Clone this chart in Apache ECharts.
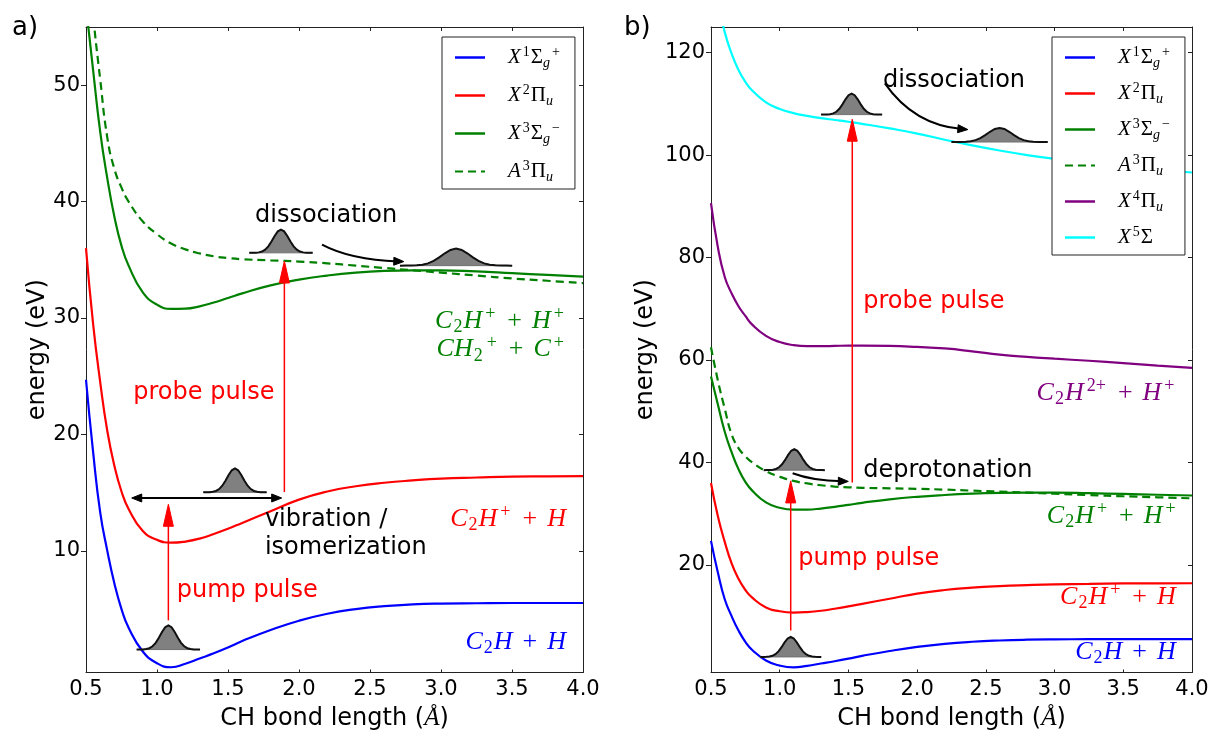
<!DOCTYPE html>
<html><head><meta charset="utf-8">
<script src="https://cdn.jsdelivr.net/npm/echarts@6/dist/echarts.min.js"></script>
<style>html,body{margin:0;padding:0;background:#fff}#c{width:1212px;height:736px}</style>
</head><body><div id="c"></div>
<script>
// ---------------- data ----------------
const bondLength = [0.5,0.55,0.6,0.65,0.7,0.75,0.8,0.9,1.0,1.1,1.2,1.3,1.4,1.5,1.6,1.8,2.0,2.2,2.4,2.6,2.8,3.0,3.25,3.5,3.75,4.0];
const eX1 = [24.7,18.5,13.3,10.0,7.2,5.0,3.4,1.35,0.35,0.0,0.3,0.75,1.2,1.7,2.25,3.2,4.0,4.6,5.0,5.25,5.4,5.47,5.5,5.52,5.52,5.52];
const eX2 = [36,29.5,24.5,20.3,17.3,15.1,13.6,11.7,10.95,10.7,10.8,11.05,11.45,11.9,12.4,13.4,14.4,15.1,15.55,15.85,16.05,16.2,16.3,16.38,16.4,16.42];
const eX3 = [56.8,51.3,46.0,42.0,38.7,36.2,34.5,32.2,31.15,30.78,30.8,31.0,31.33,31.72,32.12,32.8,33.3,33.65,33.9,34.05,34.1,34.1,34.0,33.85,33.7,33.55];
const eA3 = [62.5,56.0,50.5,45.5,42.8,41.2,40.0,38.3,37.2,36.4,35.9,35.55,35.3,35.15,35.05,34.95,34.85,34.7,34.5,34.3,34.1,33.9,33.65,33.4,33.2,33.0];
const eX4 = [90.6,82.0,76.2,73.0,70.5,68.6,66.9,64.7,63.5,62.9,62.7,62.7,62.75,62.8,62.8,62.75,62.55,62.25,61.7,61.05,60.6,60.25,59.85,59.4,58.9,58.45];
const eX5 = [137,130,124,119.8,116.6,114.3,112.6,110.3,109.0,108.2,107.65,107.2,106.85,106.5,106.1,105.2,104.2,103.0,101.9,100.9,100.0,99.25,98.4,97.7,97.1,96.6];

const xTicks = [0.5,1.0,1.5,2.0,2.5,3.0,3.5,4.0];
const yTicksA = [10,20,30,40,50];
const yTicksB = [20,40,60,80,100,120];

// wave packets: [centre x, base energy, height, width]
const packetsA = [[1.08,1.52,2.08,0.446],[1.549,15.03,2.05,0.446],[1.873,35.6,2.0,0.446],[3.106,34.5,1.46,0.79]];
const packetsB = [[1.08,2.04,3.9,0.444],[1.106,38.5,4.1,0.444],[1.523,107.9,4.1,0.444],[2.60,102.55,2.75,0.70]];
// arrows: [x1,y1,x2,y2]
const pulseArrowsA = [[1.08,4.03,1.08,14.0],[1.897,15.05,1.897,34.9]];
const pulseArrowsB = [[1.08,7.2,1.08,36.4],[1.528,36.1,1.528,107.0]];
const vibArrowsA = [[0.822,14.54,1.878,14.54]];
const curvedArrowsA = [[2.162,36.3,2.738,34.85]];
const curvedArrowsB = [[1.765,114.0,2.369,104.98],[1.094,37.9,1.499,36.3]];
// annotations: [x, y, text, color]
const notesA = [[1.69,38.78,'dissociation','#000000'],[0.833,23.62,'probe pulse','#ff0000'],[1.76,11.45,'vibration /\nisomerization','#000000'],[1.139,6.6,'pump pulse','#ff0000']];
const notesB = [[1.751,114.5,'dissociation','#000000'],[1.608,71.4,'probe pulse','#ff0000'],[1.608,38.35,'deprotonation','#000000'],[1.135,21.17,'pump pulse','#ff0000']];
const speciesA = [[3.88,29.73,'{i|C}{sub|2}{i|H}{sup|+}{n|+}{i|H}{sup|+}','#008000'],[3.88,27.3,'{i|CH}{sub|2}{sup|+}{n|+}{i|C}{sup|+}','#008000'],[3.88,12.74,'{i|C}{sub|2}{i|H}{sup|+}{n|+}{i|H}','#ff0000'],[3.88,2.18,'{i|C}{sub|2}{i|H}{n|+}{i|H}','#0000ff']];
const speciesB = [[3.887,53.6,'{i|C}{sub|2}{i|H}{sup|2+}{n|+}{i|H}{sup|+}','#800080'],[3.896,29.6,'{i|C}{sub|2}{i|H}{sup|+}{n|+}{i|H}{sup|+}','#008000'],[3.882,13.7,'{i|C}{sub|2}{i|H}{sup|+}{n|+}{i|H}','#ff0000'],[3.882,3.0,'{i|C}{sub|2}{i|H}{n|+}{i|H}','#0000ff']];

const legendLabels = {
  X1:'{i|X}{sup|1}{n|Σ}{subi|g}{sup|+}',
  X2:'{i|X}{sup|2}{n|Π}{subi|u}',
  X3:'{i|X}{sup|3}{n|Σ}{subi|g}{sup|−}',
  A3:'{i|A}{sup|3}{n|Π}{subi|u}',
  X4:'{i|X}{sup|4}{n|Π}{subi|u}',
  X5:'{i|X}{sup|5}{n|Σ}'
};
// packet bell profile (shape)
const packetProfile = [[-0.5,0],[-0.45,0.0015],[-0.4,0.006],[-0.35,0.02],[-0.3,0.056],[-0.25,0.135],[-0.2,0.278],[-0.15,0.487],[-0.1,0.726],[-0.05,0.923],[0,1],[0.05,0.923],[0.1,0.726],[0.15,0.487],[0.2,0.278],[0.25,0.135],[0.3,0.056],[0.35,0.02],[0.4,0.006],[0.45,0.0015],[0.5,0]];

// ---------------- chart ----------------
const FONT = 'DejaVu Sans';
const SERIF = 'Liberation Serif';
const chart = echarts.init(document.getElementById('c'));

function mathRich(color, s, opPad, supPad) {
  const ss = Math.round(s*0.68), lh = Math.round(s*1.2);
  const base = {fontFamily: SERIF, fill: color, color: color};
  return {
    i: Object.assign({}, base, {fontStyle:'italic', fontSize:s, lineHeight:lh}),
    n: Object.assign({}, base, {fontSize:s, lineHeight:lh, padding:[0,opPad,0,opPad]}),
    sup: Object.assign({}, base, {fontSize:ss, lineHeight:Math.round(s*0.8), verticalAlign:'top', padding:[0,supPad,0,supPad+1]}),
    sub: Object.assign({}, base, {fontSize:ss, lineHeight:ss, verticalAlign:'bottom', padding:[0,1,0,1]}),
    subi: Object.assign({}, base, {fontStyle:'italic', fontSize:ss, lineHeight:ss, verticalAlign:'bottom'}),
    sp: {width: 18, fontSize: s, lineHeight: lh}
  };
}

function mkX(grid, pos, main) {
  return {
    gridIndex: grid, type:'value', position: pos, min:0.5, max:4.0, interval:0.5,
    axisLine:{show:true, onZero:false, lineStyle:{color:'#222', width:1}},
    axisTick:{show:true, inside:true, length: main?3:4, lineStyle:{color:'#222'}, customValues:xTicks},
    axisLabel:{show:main, customValues:xTicks, formatter: v => Number(v).toFixed(1), fontSize:21, fontFamily:FONT, color:'#000', margin:7},
    splitLine:{show:false},
    name: main ? '{n|CH bond length (}{a|Å}{n|)}' : '',
    nameLocation:'middle', nameGap:32,
    nameTextStyle:{rich:{n:{fontSize:24, fontFamily:FONT, color:'#000', lineHeight:28}, a:{fontSize:25, fontFamily:SERIF, fontStyle:'italic', color:'#000', lineHeight:28}}}
  };
}
function mkY(grid, pos, main, min, max, ticks, gap) {
  return {
    gridIndex: grid, type:'value', position: pos, min:min, max:max,
    axisLine:{show:true, onZero:false, lineStyle:{color:'#222', width:1}},
    axisTick:{show:true, inside:!main, length: main?5:4, lineStyle:{color:'#222'}, customValues:ticks},
    axisLabel:{show:main, customValues:ticks, formatter: v => ticks.indexOf(v) >= 0 ? String(v) : '', fontSize:21, fontFamily:FONT, color:'#000', margin:6},
    splitLine:{show:false},
    name: main ? 'energy (eV)' : '', nameLocation:'middle', nameGap:gap,
    nameTextStyle:{fontSize:24, fontFamily:FONT, color:'#000'}
  };
}

function lineSeries(name, vals, color, xi, yi, dashed) {
  return {type:'line', name:name, xAxisIndex:xi, yAxisIndex:yi,
    data: bondLength.map((x,i) => [x, vals[i]]), symbol:'none', showSymbol:false, smooth:0.5, clip:true,
    lineStyle:{color:color, width:2.2, type: dashed ? [8,5] : 'solid'}, itemStyle:{color:color}, z:2, silent:true};
}

function packetSeries(packets, xi, yi) {
  return {type:'custom', xAxisIndex:xi, yAxisIndex:yi, data:packets, z:4, silent:true,
    renderItem: (params, api) => {
      const xc = api.value(0), b = api.value(1), h = api.value(2), w = api.value(3);
      const pts = packetProfile.map(p => api.coord([xc + p[0]*w, b + p[1]*h]));
      return {type:'group', children:[
        {type:'polygon', shape:{points:pts}, style:{fill:'#808080', stroke:'#707070', lineWidth:1}},
        {type:'polyline', shape:{points:pts}, style:{stroke:'#111', lineWidth:2, fill:null}}
      ]};
    }};
}
function headPoly(tip, ux, uy, hl, hw, color) {
  const px = -uy, py = ux;
  return {type:'polygon', shape:{points:[[tip[0],tip[1]],[tip[0]-ux*hl+px*hw/2, tip[1]-uy*hl+py*hw/2],[tip[0]-ux*hl-px*hw/2, tip[1]-uy*hl-py*hw/2]]}, style:{fill:color, stroke:color, lineWidth:1}};
}
function straightArrowSeries(arrows, xi, yi, color, lw, hl, hw, both) {
  return {type:'custom', xAxisIndex:xi, yAxisIndex:yi, data:arrows, z:5, silent:true,
    renderItem: (params, api) => {
      const a = api.coord([api.value(0), api.value(1)]);
      const b = api.coord([api.value(2), api.value(3)]);
      const dx = b[0]-a[0], dy = b[1]-a[1], L = Math.hypot(dx,dy), ux = dx/L, uy = dy/L;
      const s = both ? [a[0]+ux*hl*0.8, a[1]+uy*hl*0.8] : a;
      const e = [b[0]-ux*hl*0.8, b[1]-uy*hl*0.8];
      const ch = [{type:'line', shape:{x1:s[0], y1:s[1], x2:e[0], y2:e[1]}, style:{stroke:color, lineWidth:lw}},
                  headPoly(b, ux, uy, hl, hw, color)];
      if (both) ch.push(headPoly(a, -ux, -uy, hl, hw, color));
      return {type:'group', children:ch};
    }};
}
function curvedArrowSeries(arrows, xi, yi) {
  return {type:'custom', xAxisIndex:xi, yAxisIndex:yi, data:arrows, z:5, silent:true,
    renderItem: (params, api) => {
      const a = api.coord([api.value(0), api.value(1)]);
      const b = api.coord([api.value(2), api.value(3)]);
      const c = [a[0] + 0.35*(b[0]-a[0]), a[1] + 0.9*(b[1]-a[1])];
      const dx = b[0]-c[0], dy = b[1]-c[1], L = Math.hypot(dx,dy), ux = dx/L, uy = dy/L;
      const e = [b[0]-ux*6, b[1]-uy*6];
      return {type:'group', children:[
        {type:'bezierCurve', shape:{x1:a[0], y1:a[1], x2:e[0], y2:e[1], cpx1:c[0], cpy1:c[1]}, style:{stroke:'#000', lineWidth:2, fill:null}},
        headPoly(b, ux, uy, 10, 8, '#000')
      ]};
    }};
}
function notesSeries(items, xi, yi) {
  return {type:'custom', xAxisIndex:xi, yAxisIndex:yi, data:items.map(it => [it[0], it[1]]), z:6, silent:true,
    renderItem: (params, api) => {
      const it = items[params.dataIndex];
      const p = api.coord([it[0], it[1]]);
      return {type:'text', x:p[0], y:p[1], style:{text:it[2], fill:it[3], fontSize:24, fontFamily:FONT, align:'left', verticalAlign:'middle', lineHeight:28}};
    }};
}
function speciesSeries(items, xi, yi) {
  return {type:'custom', xAxisIndex:xi, yAxisIndex:yi, data:items.map(it => [it[0], it[1]]), z:6, silent:true,
    renderItem: (params, api) => {
      const it = items[params.dataIndex];
      const p = api.coord([it[0], it[1]]);
      return {type:'text', x:p[0], y:p[1], style:{text:it[2], rich:mathRich(it[3], 26, 10, 2), fill:it[3], fontSize:26, fontFamily:SERIF, align:'right', verticalAlign:'middle'}};
    }};
}

const DASH_ICON = 'path://M0,0h8v2h-8zM13,0h8v2h-8zM26,0h4v2h-4z';
function mkLegend(names, left, gap, pad) {
  return {data:names.map(n => ({name:n, icon: n === 'A3' ? DASH_ICON : 'rect'})),
    orient:'vertical', left:left, top:37, itemWidth:30, itemHeight:2.5, itemGap:gap,
    padding:pad, backgroundColor:'#ffffff', borderColor:'#222', borderWidth:1, borderRadius:0, selectedMode:false,
    formatter: n => '{sp| }' + legendLabels[n],
    textStyle:{rich: mathRich('#000000', 21, 0, 1)}};
}

const option = {
  animation:false,
  backgroundColor:'#ffffff',
  grid:[{left:86, top:27, width:497, height:647}, {left:711, top:27, width:481, height:647}],
  xAxis:[mkX(0,'bottom',true), mkX(0,'top',false), mkX(1,'bottom',true), mkX(1,'top',false)],
  yAxis:[mkY(0,'left',true,-0.45,55,yTicksA,34), mkY(0,'right',false,-0.45,55,yTicksA,0),
         mkY(1,'left',true,-1,125,yTicksB,53), mkY(1,'right',false,-1,125,yTicksB,0)],
  legend:[mkLegend(['X1','X2','X3','A3'], 442, 13, [8,14,5,13]),
          mkLegend(['X1','X2','X3','A3','X4','X5'], 1052, 11, [8,14,7,13])],
  graphic:[
    {type:'text', left:12, top:15, style:{text:'a)', fontSize:26, fontFamily:FONT, fill:'#000'}},
    {type:'text', left:624, top:15, style:{text:'b)', fontSize:26, fontFamily:FONT, fill:'#000'}}
  ],
  series:[
    lineSeries('X1', eX1, '#0000ff', 0, 0, false),
    lineSeries('X2', eX2, '#ff0000', 0, 0, false),
    lineSeries('X3', eX3, '#008000', 0, 0, false),
    lineSeries('A3', eA3, '#008000', 0, 0, true),
    lineSeries('X1', eX1, '#0000ff', 2, 2, false),
    lineSeries('X2', eX2, '#ff0000', 2, 2, false),
    lineSeries('X3', eX3, '#008000', 2, 2, false),
    lineSeries('A3', eA3, '#008000', 2, 2, true),
    lineSeries('X4', eX4, '#800080', 2, 2, false),
    lineSeries('X5', eX5, '#00ffff', 2, 2, false),
    packetSeries(packetsA, 0, 0),
    packetSeries(packetsB, 2, 2),
    straightArrowSeries(pulseArrowsA, 0, 0, '#ff0000', 1.5, 22, 10, false),
    straightArrowSeries(pulseArrowsB, 2, 2, '#ff0000', 1.5, 22, 10, false),
    straightArrowSeries(vibArrowsA, 0, 0, '#000000', 2, 10, 8, true),
    curvedArrowSeries(curvedArrowsA, 0, 0),
    curvedArrowSeries(curvedArrowsB, 2, 2),
    notesSeries(notesA, 0, 0),
    notesSeries(notesB, 2, 2),
    speciesSeries(speciesA, 0, 0),
    speciesSeries(speciesB, 2, 2)
  ]
};
chart.setOption(option);
</script>
</body></html>
